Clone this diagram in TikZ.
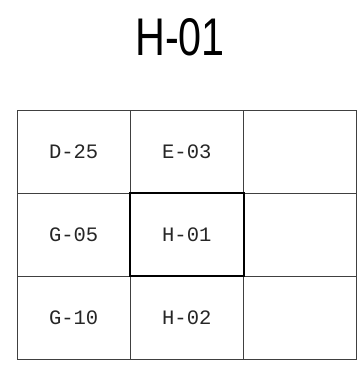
\documentclass[tikz,border=0pt]{standalone}
\usepackage{fontspec}
\newfontfamily\titlefont[FakeStretch=0.78]{Liberation Sans}
\newfontfamily\cellfont{Liberation Mono}
\begin{document}
\begin{tikzpicture}[x=1pt,y=1pt]
\tikzset{
  cell/.style={draw=black!75,line width=0.9pt,minimum width=113.3pt,minimum height=83pt,inner sep=0pt,font=\cellfont\fontsize{20.5}{20.5}\selectfont,text=black!85},
  current/.style={draw=black,line width=2pt}
}
\useasboundingbox (0,0) rectangle (362,383);
\node[font=\titlefont\fontsize{53}{53}\selectfont] (title) at (180,345.5) {H-01};

\node[cell] (d25) at (73.7,231.5) {D-25};
\node[cell] (e03) at (186.8,231.5) {E-03};
\node[cell] (ne) at (300.2,231.5) {};
\node[cell] (g05) at (73.7,148.5) {G-05};
\node[cell] (h01) at (186.8,148.5) {H-01};
\node[cell] (ea) at (300.2,148.5) {};
\node[cell] (g10) at (73.7,65.5) {G-10};
\node[cell] (h02) at (186.8,65.5) {H-02};
\node[cell] (se) at (300.2,65.5) {};

\draw[current] (h01.north west) rectangle (h01.south east);
\end{tikzpicture}
\end{document}
